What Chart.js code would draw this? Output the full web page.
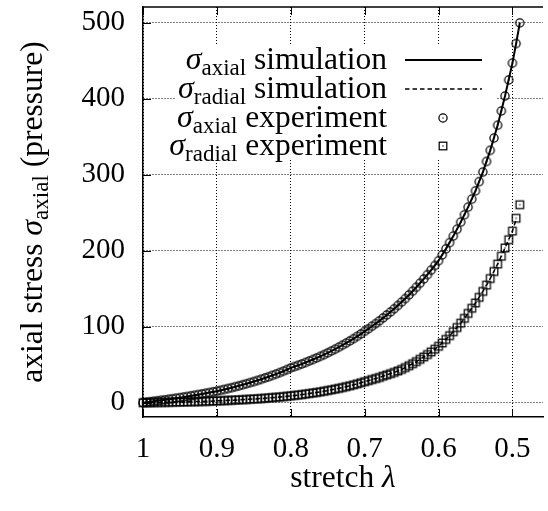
<!DOCTYPE html>
<html>
<head>
<meta charset="utf-8">
<script src="https://cdn.jsdelivr.net/npm/chart.js@4/dist/chart.umd.min.js"></script>
<style>
  html, body { margin: 0; padding: 0; background: #fff; }
</style>
</head>
<body>
<canvas id="stressChart" width="548" height="511"></canvas>
<script>
// stretch values of the measured points (every 0.005)
const lambdaExp = [
  1.000, 0.995, 0.990, 0.985, 0.980, 0.975, 0.970, 0.965, 0.960, 0.955,
  0.950, 0.945, 0.940, 0.935, 0.930, 0.925, 0.920, 0.915, 0.910, 0.905,
  0.900, 0.895, 0.890, 0.885, 0.880, 0.875, 0.870, 0.865, 0.860, 0.855,
  0.850, 0.845, 0.840, 0.835, 0.830, 0.825, 0.820, 0.815, 0.810, 0.805,
  0.800, 0.795, 0.790, 0.785, 0.780, 0.775, 0.770, 0.765, 0.760, 0.755,
  0.750, 0.745, 0.740, 0.735, 0.730, 0.725, 0.720, 0.715, 0.710, 0.705,
  0.700, 0.695, 0.690, 0.685, 0.680, 0.675, 0.670, 0.665, 0.660, 0.655,
  0.650, 0.645, 0.640, 0.635, 0.630, 0.625, 0.620, 0.615, 0.610, 0.605,
  0.600, 0.595, 0.590, 0.585, 0.580, 0.575, 0.570, 0.565, 0.560, 0.555,
  0.550, 0.545, 0.540, 0.535, 0.530, 0.525, 0.520, 0.515, 0.510, 0.505,
  0.500, 0.495, 0.490
];
const axialExp = [
  0, 0.6, 1.2, 1.9, 2.5, 3.2, 3.8, 4.5, 5.2, 5.9,
  6.6, 7.4, 8.1, 9.0, 9.8, 10.7, 11.5, 12.4, 13.3, 14.3,
  15.2, 16.3, 17.4, 18.6, 19.7, 21.0, 22.2, 23.6, 24.9, 26.4,
  27.8, 29.3, 30.8, 32.5, 34.1, 35.9, 37.6, 39.5, 41.4, 43.6,
  45.8, 47.5, 49.2, 51.0, 52.9, 54.8, 56.8, 58.9, 61.0, 63.2,
  65.6, 68.0, 70.4, 73.0, 75.7, 78.4, 81.3, 84.3, 87.3, 90.5,
  93.9, 97.2, 100.6, 104.1, 107.7, 111.5, 115.4, 119.4, 123.6, 127.9,
  132.4, 137.0, 141.8, 146.8, 151.9, 157.2, 162.8, 168.5, 174.4, 180.5,
  186.8, 194.4, 202.4, 210.6, 219.2, 228.2, 237.5, 247.2, 257.3, 267.8,
  278.7, 290.8, 303.4, 317.4, 332.0, 348.1, 365.1, 383.8, 403.5, 424.6,
  446.8, 472.5, 499.7
];
const radialExp = [
  0, 0.1, 0.1, 0.2, 0.3, 0.4, 0.5, 0.6, 0.7, 0.8,
  0.9, 1.0, 1.1, 1.3, 1.4, 1.5, 1.7, 1.8, 2.0, 2.2,
  2.4, 2.6, 2.8, 3.0, 3.2, 3.5, 3.7, 4.0, 4.3, 4.6,
  4.9, 5.2, 5.5, 5.9, 6.3, 6.7, 7.1, 7.5, 8.0, 8.5,
  9.0, 9.6, 10.1, 10.7, 11.4, 12.1, 12.8, 13.5, 14.3, 15.1,
  16.0, 16.9, 17.9, 18.9, 19.9, 21.1, 22.2, 23.5, 24.8, 26.2,
  27.6, 29.0, 30.5, 31.8, 33.2, 34.9, 36.6, 38.2, 39.9, 41.8,
  43.8, 46.2, 48.7, 51.3, 54.1, 57.1, 60.2, 63.4, 66.8, 70.4,
  74.2, 78.6, 83.3, 88.2, 93.4, 98.9, 104.7, 111.0, 117.5, 124.2,
  131.2, 138.6, 146.4, 154.7, 163.4, 172.7, 182.4, 192.7, 203.6, 214.4,
  225.8, 242.6, 260.5
];

// simulation curves
const lambdaSim = [
  1.00, 0.99, 0.98, 0.97, 0.96, 0.95, 0.94, 0.93, 0.92, 0.91,
  0.90, 0.89, 0.88, 0.87, 0.86, 0.85, 0.84, 0.83, 0.82, 0.81,
  0.80, 0.79, 0.78, 0.77, 0.76, 0.75, 0.74, 0.73, 0.72, 0.71,
  0.70, 0.69, 0.68, 0.67, 0.66, 0.65, 0.64, 0.63, 0.62, 0.61,
  0.60, 0.59, 0.58, 0.57, 0.56, 0.55, 0.54, 0.53, 0.52, 0.51,
  0.50, 0.495, 0.49
];
const axialSim = [
  0, 1.2, 2.5, 3.8, 5.2, 6.6, 8.1, 9.8, 11.5, 13.3,
  15.2, 17.4, 19.7, 22.2, 24.9, 27.8, 30.8, 34.1, 37.6, 41.4,
  45.8, 49.2, 52.9, 56.8, 61.0, 65.6, 70.4, 75.7, 81.3, 87.3,
  93.9, 100.6, 107.7, 115.4, 123.6, 132.4, 141.8, 151.9, 162.8, 174.4,
  186.8, 202.4, 219.2, 237.5, 257.3, 278.7, 303.4, 332.0, 365.1, 403.5,
  446.8, 472.5, 499.7
];
const radialSim = [
  0, 0.1, 0.3, 0.5, 0.7, 0.9, 1.1, 1.4, 1.7, 2.0,
  2.4, 2.8, 3.2, 3.7, 4.3, 4.9, 5.5, 6.3, 7.1, 8.0,
  9.0, 10.1, 11.4, 12.8, 14.3, 16.0, 17.9, 19.9, 22.2, 24.8,
  27.6, 30.5, 33.2, 36.6, 39.9, 43.8, 48.7, 54.1, 60.2, 66.8,
  74.2, 83.3, 93.4, 104.7, 117.5, 131.2, 146.4, 163.4, 182.4, 203.6,
  225.8, 241.0, null
];

const xTicks = [1, 0.9, 0.8, 0.7, 0.6, 0.5];
const yTicks = [0, 100, 200, 300, 400, 500];

const FONT = '"Liberation Serif", "Times New Roman", serif';

// gnuplot-like point symbols: outline with a dot in the middle
function makeSymbol(kind) {
  const c = document.createElement('canvas');
  c.width = 12; c.height = 12;
  const g = c.getContext('2d');
  g.strokeStyle = '#000';
  g.lineWidth = 1.25;
  if (kind === 'circle') {
    g.beginPath();
    g.arc(6, 6, 4.1, 0, Math.PI * 2);
    g.stroke();
  } else {
    g.strokeRect(2.2, 2.2, 7.6, 7.6);
  }
  g.fillStyle = '#000';
  g.fillRect(5.4, 5.4, 1.2, 1.2);
  return c;
}
const circleSym = makeSymbol('circle');
const squareSym = makeSymbol('square');

function toPoints(xs, ys) {
  return xs.map((x, i) => ({ x: x, y: ys[i] }));
}

// text runs with subscripts, e.g. sigma_axial
function drawRich(ctx, parts, x, y, align) {
  let total = 0;
  parts.forEach(p => {
    ctx.font = (p.italic ? 'italic ' : '') + p.size + 'px ' + FONT;
    p.w = ctx.measureText(p.text).width;
    total += p.w;
  });
  let cx = align === 'right' ? x - total : (align === 'center' ? x - total / 2 : x);
  ctx.textAlign = 'left';
  ctx.textBaseline = 'alphabetic';
  ctx.fillStyle = '#000';
  parts.forEach(p => {
    ctx.font = (p.italic ? 'italic ' : '') + p.size + 'px ' + FONT;
    ctx.fillText(p.text, cx, y + (p.dy || 0));
    cx += p.w;
  });
}

function sigma(sub) {
  return [
    { text: 'σ', size: 32, italic: true },
    { text: sub, size: 23, dy: 6 }
  ];
}

const keyPlugin = {
  id: 'keyAndFrame',
  beforeDatasetsDraw(chart) {
    const ctx = chart.ctx;
    ctx.save();
    ctx.fillStyle = '#fff';
    ctx.fillRect(175, 45, 321, 115);

    const rows = [
      { label: sigma('axial').concat([{ text: ' simulation', size: 31.5 }]), y: 60, kind: 'solid' },
      { label: sigma('radial').concat([{ text: ' simulation', size: 31.5 }]), y: 89, kind: 'dash' },
      { label: sigma('axial').concat([{ text: ' experiment', size: 31.5 }]), y: 118, kind: 'circle' },
      { label: sigma('radial').concat([{ text: ' experiment', size: 31.5 }]), y: 146, kind: 'square' }
    ];
    rows.forEach(r => {
      drawRich(ctx, r.label, 387, r.y + 8.5, 'right');
      ctx.strokeStyle = '#000';
      if (r.kind === 'solid' || r.kind === 'dash') {
        ctx.lineWidth = r.kind === 'solid' ? 2 : 1.5;
        ctx.setLineDash(r.kind === 'dash' ? [4.5, 3] : []);
        ctx.beginPath();
        ctx.moveTo(405, r.y);
        ctx.lineTo(482, r.y);
        ctx.stroke();
        ctx.setLineDash([]);
      } else {
        const img = r.kind === 'circle' ? circleSym : squareSym;
        ctx.drawImage(img, 443 - 6, r.y - 6);
      }
    });
    ctx.restore();
  },
  afterDraw(chart) {
    const ctx = chart.ctx;
    const area = chart.chartArea;
    const xs = chart.scales.x;
    const ys = chart.scales.y;
    ctx.save();
    ctx.strokeStyle = '#000';
    ctx.lineWidth = 1;
    // inward tick marks
    xTicks.forEach(v => {
      const px = Math.round(xs.getPixelForValue(v)) + 0.5;
      ctx.beginPath();
      ctx.moveTo(px, area.bottom);
      ctx.lineTo(px, area.bottom - 8);
      ctx.moveTo(px, area.top);
      ctx.lineTo(px, area.top + 8);
      ctx.stroke();
    });
    yTicks.forEach(v => {
      const py = Math.round(ys.getPixelForValue(v)) + 0.5;
      ctx.beginPath();
      ctx.moveTo(area.left, py);
      ctx.lineTo(area.left + 8, py);
      ctx.stroke();
    });
    // top frame
    ctx.lineWidth = 1.5;
    ctx.beginPath();
    ctx.moveTo(area.left, area.top);
    ctx.lineTo(area.right, area.top);
    ctx.stroke();

    // axis titles
    drawRich(ctx, [
      { text: 'stretch ', size: 31.5 },
      { text: 'λ', size: 31.5, italic: true }
    ], (area.left + area.right) / 2, 487, 'center');

    ctx.translate(42, (area.top + area.bottom) / 2);
    ctx.rotate(-Math.PI / 2);
    drawRich(ctx, [{ text: 'axial stress ', size: 31.5 }]
      .concat(sigma('axial'))
      .concat([{ text: ' (pressure)', size: 31.5 }]), 0, 0, 'center');
    ctx.restore();
  }
};

new Chart(document.getElementById('stressChart'), {
  type: 'scatter',
  data: {
    datasets: [
      {
        label: 'σaxial experiment',
        data: toPoints(lambdaExp, axialExp),
        pointStyle: circleSym,
        pointRadius: 4,
        showLine: false,
        clip: false,
        order: 0
      },
      {
        label: 'σradial experiment',
        data: toPoints(lambdaExp, radialExp),
        pointStyle: squareSym,
        pointRadius: 4,
        showLine: false,
        clip: false,
        order: 0
      },
      {
        label: 'σaxial simulation',
        data: toPoints(lambdaSim, axialSim),
        showLine: true,
        borderColor: '#000',
        borderWidth: 2,
        pointRadius: 0,
        tension: 0,
        order: 1
      },
      {
        label: 'σradial simulation',
        data: toPoints(lambdaSim, radialSim),
        showLine: true,
        borderColor: '#000',
        borderWidth: 1.5,
        borderDash: [4.5, 3],
        pointRadius: 0,
        tension: 0,
        order: 1
      }
    ]
  },
  options: {
    responsive: false,
    devicePixelRatio: 1,
    animation: false,
    layout: { padding: { top: 7, left: 0, right: 0, bottom: 0 } },
    plugins: {
      legend: { display: false },
      tooltip: { enabled: false }
    },
    scales: {
      x: {
        type: 'linear',
        reverse: true,
        min: 0.4586,
        max: 1,
        afterBuildTicks: scale => { scale.ticks = xTicks.map(v => ({ value: v })); },
        afterFit: scale => {
          scale.height = 94;
          scale.paddingLeft = 0;
          scale.paddingRight = 0;
        },
        grid: { color: '#000', lineWidth: 1, drawTicks: false },
        border: { display: true, color: '#000', width: 1.5, dash: [1, 2] },
        ticks: {
          color: '#000',
          padding: 15,
          maxRotation: 0,
          font: { family: FONT, size: 29 },
          callback: v => String(v)
        }
      },
      y: {
        type: 'linear',
        min: -18.8,
        max: 520.6,
        afterBuildTicks: scale => { scale.ticks = yTicks.map(v => ({ value: v })); },
        afterFit: scale => {
          scale.width = 143;
          scale.paddingTop = 0;
          scale.paddingBottom = 0;
        },
        grid: { color: '#000', lineWidth: 1, drawTicks: false },
        border: { display: true, color: '#000', width: 1.5, dash: [1, 2] },
        ticks: {
          color: '#000',
          padding: 18,
          font: { family: FONT, size: 29 },
          callback: v => String(v)
        }
      }
    }
  },
  plugins: [keyPlugin]
});
</script>
</body>
</html>
